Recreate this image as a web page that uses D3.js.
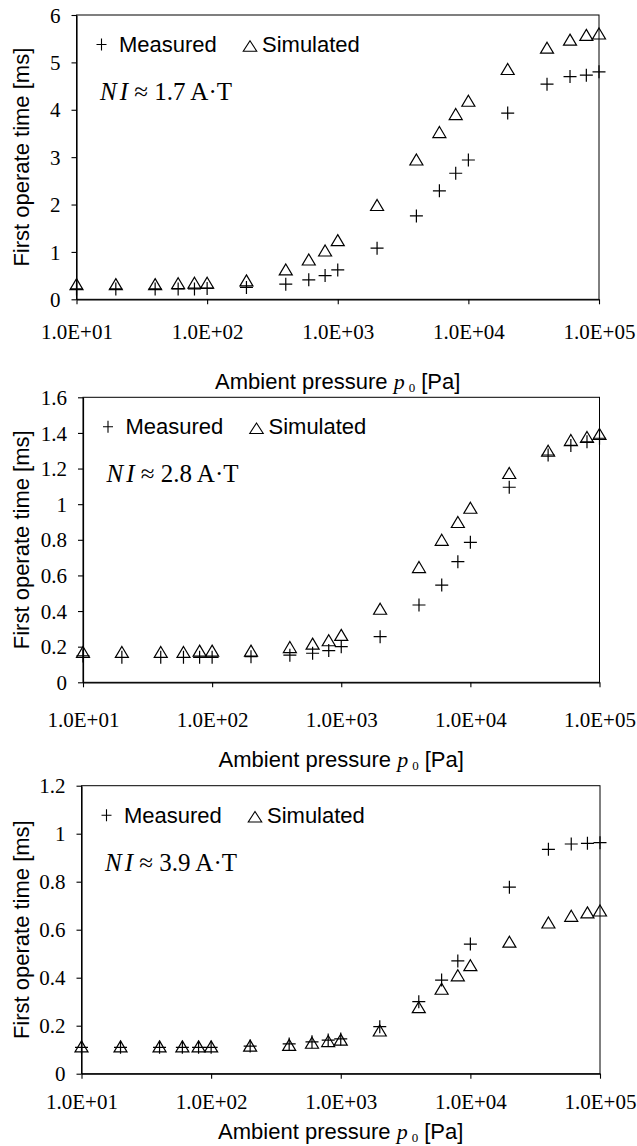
<!DOCTYPE html>
<html>
<head>
<meta charset="utf-8">
<script src="https://cdn.jsdelivr.net/npm/d3@7"></script>
<style>
  body { margin: 0; background: #fff; }
  svg { display: block; }
</style>
</head>
<body>
<svg id="chart" width="637" height="1146"></svg>
<script>
// Ambient pressure levels [Pa]
const pressure = [10, 20, 40, 60, 80, 100, 200, 400, 600, 800, 1000, 2000, 4000, 6000, 8000, 10000, 20000, 40000, 60000, 80000, 100000];

// First operate time [ms], NI ≈ 1.7 A·T
const measured17  = [0.22, 0.22, 0.22, 0.22, 0.22, 0.23, 0.25, 0.32, 0.41, 0.50, 0.62, 1.08, 1.76, 2.29, 2.66, 2.94, 3.93, 4.54, 4.70, 4.73, 4.80];
const simulated17 = [0.32, 0.32, 0.32, 0.34, 0.35, 0.35, 0.40, 0.63, 0.84, 1.03, 1.25, 1.99, 2.95, 3.53, 3.91, 4.19, 4.86, 5.31, 5.48, 5.58, 5.61];

// First operate time [ms], NI ≈ 2.8 A·T
const measured28  = [0.148, 0.14, 0.14, 0.14, 0.14, 0.14, 0.144, 0.152, 0.163, 0.178, 0.20, 0.256, 0.434, 0.546, 0.677, 0.786, 1.095, 1.276, 1.33, 1.35, 1.37];
const simulated28 = [0.17, 0.17, 0.17, 0.17, 0.178, 0.178, 0.178, 0.198, 0.217, 0.236, 0.266, 0.413, 0.647, 0.80, 0.90, 0.98, 1.175, 1.30, 1.36, 1.377, 1.394];

// First operate time [ms], NI ≈ 3.9 A·T
const measured39  = [0.11, 0.11, 0.11, 0.11, 0.11, 0.11, 0.115, 0.124, 0.133, 0.14, 0.145, 0.196, 0.30, 0.39, 0.47, 0.54, 0.777, 0.935, 0.957, 0.96, 0.9625];
const simulated39 = [0.114, 0.114, 0.114, 0.114, 0.114, 0.114, 0.117, 0.12, 0.129, 0.136, 0.142, 0.18, 0.277, 0.354, 0.41, 0.452, 0.55, 0.63, 0.658, 0.672, 0.68];

// Axis ticks
const xTickValues = [1e1, 1e2, 1e3, 1e4, 1e5];
const xTickLabels = ["1.0E+01", "1.0E+02", "1.0E+03", "1.0E+04", "1.0E+05"];
const yTicks17 = [0, 1, 2, 3, 4, 5, 6];
const yTicks28 = [0, 0.2, 0.4, 0.6, 0.8, 1, 1.2, 1.4, 1.6];
const yTicks39 = [0, 0.2, 0.4, 0.6, 0.8, 1, 1.2];

// Text
const niValues = ["1.7", "2.8", "3.9"];
const legendLabels = ["Measured", "Simulated"];
const yTitle = "First operate time [ms]";

const SERIF = "'Liberation Serif', 'Times New Roman', serif";
const SANS  = "'Liberation Sans', Arial, sans-serif";

// Panel frames (pixels)
const panels = [
  { left: 76.5, right: 599, top: 15,    bottom: 299.3, tickBase: 339,  titleBase: 388.5,
    meas: measured17, sim: simulated17, yTicks: yTicks17, ni: niValues[0] },
  { left: 83,   right: 599.5, top: 397.3, bottom: 682.3, tickBase: 727, titleBase: 767,
    meas: measured28, sim: simulated28, yTicks: yTicks28, ni: niValues[1] },
  { left: 81.5, right: 600, top: 785.7, bottom: 1073.7, tickBase: 1109, titleBase: 1138.5,
    meas: measured39, sim: simulated39, yTicks: yTicks39, ni: niValues[2] }
];

const svg = d3.select("#chart");

// marker shapes
const triW = 13, triH = 11, crossR = 6.5;
const trianglePath = (w, h) => `M0,${-h / 2}L${w / 2},${h / 2}L${-w / 2},${h / 2}Z`;
const crossPath = (rx, ry) => `M${-rx},0H${rx}M0,${-ry}V${ry}`;

panels.forEach(p => {
  const x = d3.scaleLog().domain([1e1, 1e5]).range([p.left, p.right]);
  const yMax = p.yTicks[p.yTicks.length - 1];
  const y = d3.scaleLinear().domain([0, yMax]).range([p.bottom, p.top]);

  const g = svg.append("g");

  // plot frame
  g.append("rect")
    .attr("x", p.left).attr("y", p.top)
    .attr("width", p.right - p.left).attr("height", p.bottom - p.top)
    .attr("fill", "none").attr("stroke", "#000").attr("stroke-width", 1);

  // x axis
  const xAxis = g.append("g")
    .attr("transform", `translate(0,${p.bottom})`)
    .call(d3.axisBottom(x).tickValues(xTickValues)
      .tickFormat((d, i) => xTickLabels[i]).tickSize(5).tickSizeOuter(0));
  xAxis.select(".domain").attr("stroke-width", 1.2);
  xAxis.selectAll(".tick line").attr("stroke-width", 1.1);
  xAxis.selectAll("text")
    .attr("y", p.tickBase - p.bottom).attr("dy", 0)
    .attr("font-family", SERIF).attr("font-size", 21).attr("fill", "#000");

  // y axis
  const yAxis = g.append("g")
    .attr("transform", `translate(${p.left},0)`)
    .call(d3.axisLeft(y).tickValues(p.yTicks)
      .tickFormat(d3.format("~g")).tickSize(5).tickPadding(11).tickSizeOuter(0));
  yAxis.select(".domain").attr("stroke-width", 1.2);
  yAxis.selectAll(".tick line").attr("stroke-width", 1.1);
  yAxis.selectAll("text")
    .attr("font-family", SERIF).attr("font-size", 21).attr("fill", "#000")
    .attr("dy", "0.34em");

  // measured (+)
  g.append("g").selectAll("path")
    .data(pressure.map((px, i) => [px, p.meas[i]]))
    .join("path")
    .attr("transform", d => `translate(${x(d[0])},${y(d[1])})`)
    .attr("d", crossPath(crossR, crossR))
    .attr("fill", "none").attr("stroke", "#000").attr("stroke-width", 1.2);

  // simulated (triangle)
  g.append("g").selectAll("path")
    .data(pressure.map((px, i) => [px, p.sim[i]]))
    .join("path")
    .attr("transform", d => `translate(${x(d[0])},${y(d[1])})`)
    .attr("d", trianglePath(triW, triH))
    .attr("fill", "none").attr("stroke", "#000").attr("stroke-width", 1.2)
    .attr("stroke-linejoin", "miter");

  // legend
  const legBase = p.top + 37;
  g.append("path")
    .attr("transform", `translate(${p.left + 25},${legBase - 7.5})`)
    .attr("d", crossPath(5, 6))
    .attr("fill", "none").attr("stroke", "#000").attr("stroke-width", 1.1);
  g.append("text")
    .attr("x", p.left + 42.5).attr("y", legBase)
    .attr("font-family", SANS).attr("font-size", 22).attr("fill", "#000")
    .text(legendLabels[0]);
  g.append("path")
    .attr("transform", `translate(${p.left + 173.5},${legBase - 6})`)
    .attr("d", trianglePath(13.5, 10.5))
    .attr("fill", "none").attr("stroke", "#000").attr("stroke-width", 1.1);
  g.append("text")
    .attr("x", p.left + 185.5).attr("y", legBase)
    .attr("font-family", SANS).attr("font-size", 22).attr("fill", "#000")
    .text(legendLabels[1]);

  // NI annotation
  const ni = g.append("text")
    .attr("x", p.left + 23.5).attr("y", p.top + 85)
    .attr("font-family", SERIF).attr("font-size", 25).attr("fill", "#000");
  ni.append("tspan").attr("font-style", "italic").text("N");
  ni.append("tspan").attr("font-style", "italic").attr("dx", 3).text("I");
  ni.append("tspan").text(` \u2248 ${p.ni} A\u00B7T`);

  // x title
  const xt = g.append("text")
    .attr("x", (p.left + p.right) / 2).attr("y", p.titleBase)
    .attr("text-anchor", "middle")
    .attr("font-family", SANS).attr("font-size", 22).attr("fill", "#000");
  xt.append("tspan").text("Ambient pressure ");
  xt.append("tspan").attr("font-family", SERIF).attr("font-style", "italic").text("p");
  xt.append("tspan").attr("font-family", SERIF).attr("font-size", 13)
    .attr("dx", 4).attr("dy", 3).text("0");
  xt.append("tspan").attr("dy", -3).text(" [Pa]");

  // y title
  g.append("text")
    .attr("transform", `translate(29,${(p.top + p.bottom) / 2}) rotate(-90)`)
    .attr("text-anchor", "middle")
    .attr("font-family", SANS).attr("font-size", 22).attr("fill", "#000")
    .text(yTitle);
});
</script>
</body>
</html>
